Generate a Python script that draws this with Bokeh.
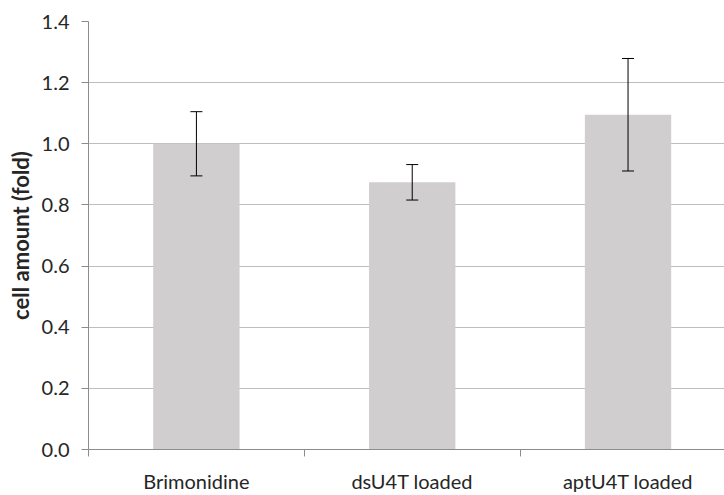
from bokeh.plotting import figure
from bokeh.models import ColumnDataSource, FixedTicker, Range1d, Whisker, TeeHead
from bokeh.embed import file_html
from bokeh.resources import INLINE

# data
categories = ["Brimonidine", "dsU4T loaded", "aptU4T loaded"]
means = [1.0, 0.874, 1.095]
errors = [0.105, 0.058, 0.184]
y_ticks = [0.0, 0.2, 0.4, 0.6, 0.8, 1.0, 1.2, 1.4]

centers = [i + 0.5 for i in range(len(categories))]
source = ColumnDataSource(dict(
    x=centers,
    top=means,
    upper=[m + e for m, e in zip(means, errors)],
    lower=[m - e for m, e in zip(means, errors)],
))

FONT = "Lato"
TEXT = "#262626"

p = figure(width=724, height=495, output_backend="svg", toolbar_location=None,
           x_range=Range1d(0, 2.947), y_range=Range1d(0, 1.4),
           min_border_left=88, min_border_right=0, min_border_top=21,
           min_border_bottom=43)
p.outline_line_color = None
p.background_fill_color = "white"

p.vbar(x="x", top="top", width=0.4, bottom=0, source=source,
       fill_color="#D0CECE", line_color=None)

err = Whisker(base="x", upper="upper", lower="lower", source=source,
              line_color="black", line_width=1, level="overlay",
              upper_head=TeeHead(size=12, line_color="black", line_width=1),
              lower_head=TeeHead(size=12, line_color="black", line_width=1))
p.add_layout(err)

# horizontal grid
p.xgrid.grid_line_color = None
p.ygrid.grid_line_color = "#BEBEBE"
p.ygrid.grid_line_width = 1

# y axis
p.yaxis.ticker = FixedTicker(ticks=y_ticks)
p.yaxis.major_label_overrides = {t: f"{t:.1f}" for t in y_ticks}
p.yaxis.axis_line_color = "#8C8C8C"
p.yaxis.major_tick_line_color = "#8C8C8C"
p.yaxis.major_tick_in = 0
p.yaxis.major_tick_out = 7
p.yaxis.minor_tick_line_color = None
p.yaxis.major_label_standoff = 12
p.yaxis.major_label_text_font = FONT
p.yaxis.major_label_text_font_size = "20px"
p.yaxis.major_label_text_color = TEXT
p.yaxis.axis_label = "cell amount (fold)"
p.yaxis.axis_label_text_font = FONT
p.yaxis.axis_label_text_font_style = "bold"
p.yaxis.axis_label_text_font_size = "22px"
p.yaxis.axis_label_text_color = TEXT
p.yaxis.axis_label_standoff = 5

# x axis: labels at category centres, tick marks at category boundaries
p.xaxis.ticker = FixedTicker(ticks=centers, minor_ticks=[0, 1, 2])
p.xaxis.major_label_overrides = {c: name for c, name in zip(centers, categories)}
p.xaxis.axis_line_color = "#8C8C8C"
p.xaxis.major_tick_line_color = None
p.xaxis.minor_tick_line_color = "#8C8C8C"
p.xaxis.minor_tick_in = 0
p.xaxis.minor_tick_out = 7
p.xaxis.major_tick_out = 7
p.xaxis.major_tick_in = 0
p.xaxis.major_label_standoff = 12
p.xaxis.major_label_text_font = FONT
p.xaxis.major_label_text_font_size = "20px"
p.xaxis.major_label_text_color = TEXT

open("out.html", "w").write(file_html(p, INLINE))
